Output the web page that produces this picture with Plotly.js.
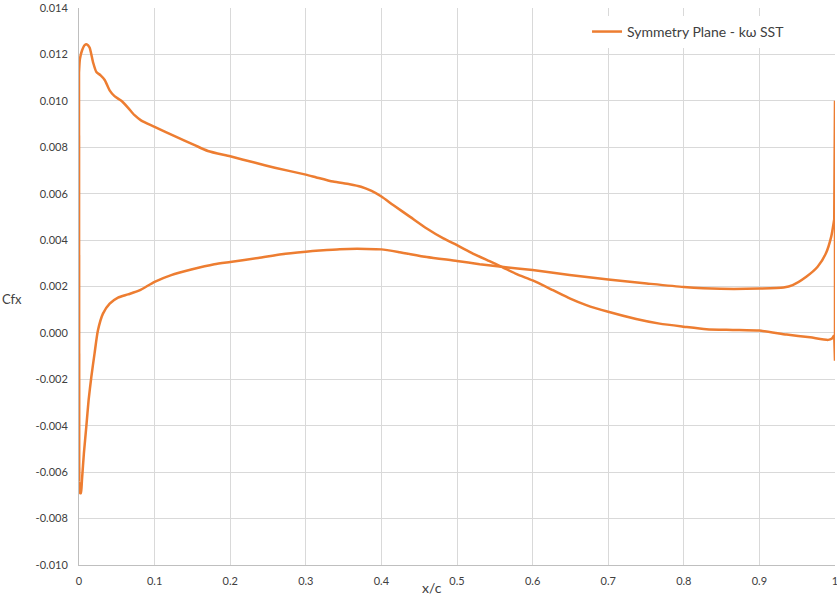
<!DOCTYPE html>
<html>
<head>
<meta charset="utf-8">
<script src="https://cdn.plot.ly/plotly-3.0.1.min.js"></script>
<style>
  html, body { margin: 0; padding: 0; background: #ffffff; }
  #chart { width: 837px; height: 596px; }
</style>
</head>
<body>
<div id="chart"></div>
<script>
// Skin-friction coefficient along the chord, symmetry plane, k-omega SST.
// Upper branch: leading edge -> trailing edge.
const upperX = [0, 0.0012, 0.004, 0.0075, 0.0105, 0.014, 0.0185, 0.023, 0.0286, 0.034,
  0.0405, 0.047, 0.056, 0.065, 0.0735, 0.082, 0.1, 0.1265, 0.153, 0.1705,
  0.2, 0.232, 0.259, 0.3, 0.314, 0.336, 0.358, 0.373, 0.387, 0.4,
  0.416, 0.438, 0.46, 0.482, 0.5, 0.521, 0.543, 0.559, 0.579, 0.6,
  0.627, 0.649, 0.671, 0.7, 0.737, 0.768, 0.8, 0.83, 0.865, 0.9,
  0.936, 0.967, 0.991, 0.996, 0.999];
const upperCfx = [0.0112, 0.0118, 0.01217, 0.0124, 0.01243, 0.0123, 0.01167, 0.01124, 0.0111, 0.0109,
  0.01045, 0.0102, 0.0100, 0.0097, 0.00938, 0.00916, 0.00888, 0.00848, 0.00809, 0.00784,
  0.00761, 0.00734, 0.00712, 0.00682, 0.00670, 0.00652, 0.00641, 0.00630, 0.00612, 0.00588,
  0.0055, 0.005, 0.0045, 0.00407, 0.00378, 0.00342, 0.00309, 0.00285, 0.00253, 0.00226,
  0.00184, 0.00149, 0.0012, 0.00091, 0.0006, 0.0004, 0.00027, 0.00016, 0.00013, 0.0001,
  -0.00007, -0.00019, -0.0003, -0.00024, -0.0001];

// Trailing-edge jump at x/c = 1.
const edgeX = [0.999, 1, 1, 0.999];
const edgeCfx = [-0.0001, -0.0012, 0.0100, 0.0049];

// Lower branch: trailing edge -> leading edge.
const lowerX = [0.999, 0.995, 0.988, 0.977, 0.962, 0.944, 0.932, 0.9, 0.848,
  0.8, 0.751, 0.7, 0.649, 0.6, 0.559, 0.53, 0.5, 0.46, 0.424,
  0.4, 0.38, 0.345, 0.318, 0.3, 0.268, 0.237, 0.2, 0.179, 0.1485,
  0.122, 0.1, 0.08, 0.0648, 0.0516, 0.0406, 0.0317, 0.025, 0.0206, 0.0163,
  0.0127, 0.0097, 0.0065, 0.004, 0.0025, 0.0015, 0.0003];
const lowerCfx = [0.0049, 0.00415, 0.00343, 0.00285, 0.00242, 0.00206, 0.00196, 0.00191, 0.0019,
  0.00198, 0.00213, 0.0023, 0.0025, 0.00271, 0.00285, 0.00296, 0.0031, 0.00327, 0.00348,
  0.0036, 0.00362, 0.00361, 0.00355, 0.00350, 0.00339, 0.00323, 0.00306, 0.00296, 0.00273,
  0.00249, 0.0022, 0.00183, 0.00166, 0.00152, 0.00126, 0.00083, 0.0001, -0.00088, -0.0019,
  -0.0029, -0.00403, -0.00518, -0.0063, -0.0069, -0.0069, -0.0064];

const xTicks = [0, 0.1, 0.2, 0.3, 0.4, 0.5, 0.6, 0.7, 0.8, 0.9, 1];
const xTickText = ['0', '0.1', '0.2', '0.3', '0.4', '0.5', '0.6', '0.7', '0.8', '0.9', '1'];
const yTicks = [-0.010, -0.008, -0.006, -0.004, -0.002, 0, 0.002, 0.004, 0.006, 0.008, 0.010, 0.012, 0.014];
const yTickText = ['-0.010', '-0.008', '-0.006', '-0.004', '-0.002', '0.000', '0.002', '0.004',
  '0.006', '0.008', '0.010', '0.012', '0.014'];

const seriesName = 'Symmetry Plane - k\u03c9 SST';
const orange = '#ED7D31';
const grid = '#d9d9d9';
const textColor = '#404040';
const fontFamily = 'Lato, "Open Sans", sans-serif';

// Smooth branches, straight edge segments; all in one legend group.
function branch(x, y, shape, show) {
  return {
    type: 'scatter', mode: 'lines', name: seriesName, legendgroup: 'sym',
    x: x, y: y, showlegend: show,
    line: { color: orange, width: 2.5, shape: shape, smoothing: 0.6 }
  };
}

const traces = [
  branch(upperX, upperCfx, 'spline', true),
  branch(edgeX, edgeCfx, 'linear', false),
  branch(lowerX, lowerCfx, 'spline', false),
  // leading-edge jump back to the start of the upper branch
  branch([lowerX[lowerX.length - 1], upperX[0]], [lowerCfx[lowerCfx.length - 1], upperCfx[0]], 'linear', false)
];

const layout = {
  width: 837,
  height: 596,
  margin: { l: 79, r: 2, t: 8, b: 31 },
  paper_bgcolor: '#ffffff',
  plot_bgcolor: '#ffffff',
  font: { family: fontFamily, size: 11, color: textColor },
  showlegend: true,
  legend: {
    x: 0.672, xanchor: 'left',
    y: 0.957, yanchor: 'middle',
    bgcolor: 'rgba(255,255,255,1)',
    borderwidth: 0,
    font: { family: fontFamily, size: 14, color: textColor }
  },
  xaxis: {
    range: [0, 1],
    tickmode: 'array',
    tickvals: xTicks,
    ticktext: xTickText,
    showgrid: true,
    gridcolor: grid,
    gridwidth: 1,
    zeroline: false,
    showline: true,
    linecolor: '#bfbfbf',
    linewidth: 1,
    ticks: '',
    ticklabelstandoff: 6,
    ticklabeloverflow: 'allow',
    fixedrange: true
  },
  yaxis: {
    range: [-0.010, 0.014],
    tickmode: 'array',
    tickvals: yTicks,
    ticktext: yTickText,
    showgrid: true,
    gridcolor: grid,
    gridwidth: 1,
    zeroline: false,
    showline: true,
    linecolor: '#bfbfbf',
    linewidth: 1,
    ticks: '',
    ticklabelstandoff: 8,
    fixedrange: true
  },
  annotations: [
    {
      text: 'x/c', xref: 'paper', yref: 'paper',
      x: 0.467, y: -0.041, xanchor: 'center', yanchor: 'middle',
      showarrow: false, font: { family: fontFamily, size: 14, color: textColor }
    },
    {
      text: 'Cfx', xref: 'paper', yref: 'paper',
      x: -0.089, y: 0.478, xanchor: 'center', yanchor: 'middle',
      showarrow: false, font: { family: fontFamily, size: 13, color: textColor }
    }
  ]
};

Plotly.newPlot('chart', traces, layout, { staticPlot: true, displayModeBar: false });
</script>
</body>
</html>
